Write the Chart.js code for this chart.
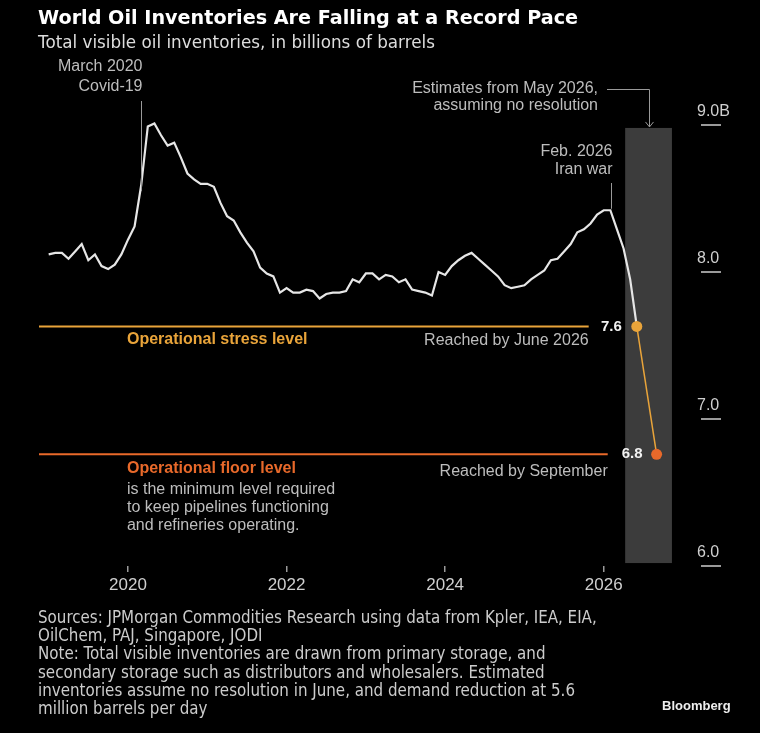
<!DOCTYPE html>
<html>

<head>
    <title>World Oil Inventories</title>
    <style type="text/css">
        body {
            margin: 0;
            background: #000;
        }

        #wrap {
            position: relative;
            width: 760px;
            height: 733px;
            background: #000;
        }

        #chart {
            position: absolute;
            left: 0;
            top: 0;
        }

        .title {
            position: absolute;
            left: 38px;
            top: 5px;
            color: #fff;
            font: bold 19.2px "DejaVu Sans", sans-serif;
            line-height: 26px;
            white-space: nowrap;
        }

        .subtitle {
            position: absolute;
            left: 38px;
            top: 31px;
            color: #ddd;
            font: 16.8px "DejaVu Sans", sans-serif;
            line-height: 22px;
            white-space: nowrap;
        }

        .notes {
            position: absolute;
            left: 38px;
            top: 608px;
            width: 640px;
            color: #ccc;
            font: 16.8px "DejaVu Sans Condensed", "DejaVu Sans", sans-serif;
            font-stretch: condensed;
            line-height: 18.2px;
            white-space: nowrap;
        }

        .brand {
            position: absolute;
            left: 662px;
            top: 698px;
            color: #eee;
            font: bold 13px "Liberation Sans", Arial, sans-serif;
        }
    </style>
</head>

<body>
    <div id="wrap">
        <canvas id="chart" width="760" height="733"></canvas>
        <div class="title">World Oil Inventories Are Falling at a Record Pace</div>
        <div class="subtitle">Total visible oil inventories, in billions of barrels</div>
        <div class="notes">
            Sources: JPMorgan Commodities Research using data from Kpler, IEA, EIA,<br>
            OilChem, PAJ, Singapore, JODI<br>
            Note: Total visible inventories are drawn from primary storage, and<br>
            secondary storage such as distributors and wholesalers. Estimated<br>
            inventories assume no resolution in June, and demand reduction at 5.6<br>
            million barrels per day
        </div>
        <div class="brand">Bloomberg</div>
    </div>

    <script src="https://cdn.jsdelivr.net/npm/chart.js@4.4.0/dist/chart.umd.min.js"></script>
    <script>
        // monthly inventories, billions of barrels, starting Jan 2019 (last point = Jun 2026 estimate)
        var startMonth = '2019-01';
        var inventory = [
            8.12, 8.13, 8.13, 8.09, 8.14, 8.19, 8.08, 8.12, 8.04, 8.02, 8.05, 8.12,
            8.22, 8.31, 8.59, 8.99, 9.01, 8.93, 8.86, 8.88, 8.78, 8.67, 8.63, 8.60,
            8.60, 8.58, 8.47, 8.38, 8.35, 8.27, 8.20, 8.14, 8.03, 7.99, 7.97, 7.86,
            7.89, 7.86, 7.86, 7.88, 7.87, 7.82, 7.85, 7.86, 7.86, 7.87, 7.95, 7.93,
            7.99, 7.99, 7.95, 7.98, 7.97, 7.93, 7.95, 7.88, 7.87, 7.86, 7.84, 8.00,
            7.98, 8.04, 8.08, 8.11, 8.13, 8.09, 8.05, 8.01, 7.97, 7.91, 7.89, 7.90,
            7.91, 7.95, 7.98, 8.01, 8.08, 8.09, 8.14, 8.19, 8.27, 8.29, 8.33, 8.39,
            8.42, 8.42, 8.29, 8.16, 7.95, 7.63
        ];

        // estimate points: June and September 2026
        var forecastMonths = ['2026-06', '2026-09'];
        var forecastValues = [7.63, 6.76];

        // operational levels (stress, floor) and where their lines stop
        var levelValues = [7.63, 6.76];
        var levelEnds = [2025.81, 2026.05];

        // shaded estimate window (decimal years / values)
        var estimateX = [2026.27, 2026.86];
        var estimateY = [6.02, 8.98];

        var eventYears = [2020.17, 2026.09]; // Covid, Iran war
        var xTickYears = [2020, 2022, 2024, 2026];
        var yTickValues = [6, 7, 8, 9];
        var yTickLabels = ['6.0', '7.0', '8.0', '9.0B'];

        var xMin = 2018.878, xMax = 2027.176;

        var GOLD = '#e9a43a';
        var ORANGE = '#e8692a';
        var TEXT = '#bdbdbd';
        var LINEGREY = '#9a9a9a';
        var FONT = '"Liberation Sans", Arial, sans-serif';

        function monthToYear(str) {
            var p = str.split('-');
            return +p[0] + (+p[1] - 1) / 12;
        }

        var start = monthToYear(startMonth);
        var historyPoints = inventory.map(function (v, i) {
            return { x: start + i / 12, y: v };
        });
        var forecastPoints = forecastMonths.map(function (m, i) {
            return { x: monthToYear(m), y: forecastValues[i] };
        });

        var shadePlugin = {
            id: 'shade',
            beforeDatasetsDraw: function (chart) {
                var ctx = chart.ctx, xs = chart.scales.x, ys = chart.scales.y;
                var x0 = xs.getPixelForValue(estimateX[0]), x1 = xs.getPixelForValue(estimateX[1]);
                var y0 = ys.getPixelForValue(estimateY[1]), y1 = ys.getPixelForValue(estimateY[0]);
                ctx.save();
                ctx.fillStyle = '#3c3c3c';
                ctx.fillRect(x0, y0, x1 - x0, y1 - y0);
                ctx.restore();
            }
        };

        var notePlugin = {
            id: 'notes',
            afterDatasetsDraw: function (chart) {
                var ctx = chart.ctx, xs = chart.scales.x, ys = chart.scales.y;
                ctx.save();
                ctx.textBaseline = 'middle';

                // Covid
                var cx = Math.round(xs.getPixelForValue(eventYears[0])) + 0.5;
                ctx.strokeStyle = LINEGREY;
                ctx.lineWidth = 1;
                ctx.beginPath();
                ctx.moveTo(cx, 101);
                ctx.lineTo(cx, ys.getPixelForValue(8.55));
                ctx.stroke();
                ctx.fillStyle = TEXT;
                ctx.font = '16px ' + FONT;
                ctx.textAlign = 'right';
                ctx.fillText('March 2020', cx + 1, 67);
                ctx.fillText('Covid-19', cx + 1, 87);

                // Iran war
                var ix = Math.round(xs.getPixelForValue(eventYears[1])) + 0.5;
                ctx.beginPath();
                ctx.moveTo(ix, 183);
                ctx.lineTo(ix, ys.getPixelForValue(8.43));
                ctx.stroke();
                ctx.fillText('Feb. 2026', ix + 1, 152);
                ctx.fillText('Iran war', ix + 1, 170);

                // estimate window call-out
                var bx = Math.round(xs.getPixelForValue((estimateX[0] + estimateX[1]) / 2)) + 0.5;
                var by = ys.getPixelForValue(estimateY[1]);
                ctx.fillText('Estimates from May 2026,', 598, 89);
                ctx.fillText('assuming no resolution', 598, 106);
                ctx.beginPath();
                ctx.moveTo(607, 89.5);
                ctx.lineTo(bx, 89.5);
                ctx.lineTo(bx, by - 1);
                ctx.moveTo(bx - 4, by - 6);
                ctx.lineTo(bx, by - 1);
                ctx.lineTo(bx + 4, by - 6);
                ctx.stroke();

                // level labels
                var sy = ys.getPixelForValue(levelValues[0]);
                var fy = ys.getPixelForValue(levelValues[1]);
                var left = xs.getPixelForValue(2020) - 1;
                ctx.textAlign = 'left';
                ctx.font = 'bold 16px ' + FONT;
                ctx.fillStyle = GOLD;
                ctx.fillText('Operational stress level', left, sy + 13);
                ctx.fillStyle = ORANGE;
                ctx.fillText('Operational floor level', left, fy + 14);
                ctx.font = '16px ' + FONT;
                ctx.fillStyle = TEXT;
                ctx.fillText('is the minimum level required', left, fy + 35);
                ctx.fillText('to keep pipelines functioning', left, fy + 53);
                ctx.fillText('and refineries operating.', left, fy + 71);

                ctx.textAlign = 'right';
                ctx.fillText('Reached by June 2026', xs.getPixelForValue(levelEnds[0]), sy + 14);
                ctx.fillText('Reached by September', xs.getPixelForValue(levelEnds[1]), fy + 17);

                // value labels next to the dots
                ctx.font = 'bold 15px ' + FONT;
                ctx.fillStyle = '#f2f2f2';
                ctx.fillText(forecastValues[0].toFixed(1), xs.getPixelForValue(forecastPoints[0].x) - 15, sy);
                ctx.fillText(forecastValues[1].toFixed(1), xs.getPixelForValue(forecastPoints[1].x) - 14, fy);
                ctx.restore();
            }
        };

        new Chart(document.getElementById('chart').getContext('2d'), {
            type: 'line',
            data: {
                datasets: [
                    {
                        data: forecastPoints,
                        borderColor: GOLD,
                        borderWidth: 1.5,
                        pointRadius: 5.5,
                        pointBorderWidth: 0,
                        pointBackgroundColor: [GOLD, ORANGE],
                        order: 0,
                        clip: false
                    },
                    {
                        data: historyPoints,
                        borderColor: '#e6e6e6',
                        borderWidth: 2.2,
                        pointRadius: 0,
                        order: 1,
                        clip: false
                    },
                    {
                        data: [{ x: xMin, y: levelValues[0] }, { x: levelEnds[0], y: levelValues[0] }],
                        borderColor: GOLD,
                        borderWidth: 2,
                        pointRadius: 0,
                        order: 2
                    },
                    {
                        data: [{ x: xMin, y: levelValues[1] }, { x: levelEnds[1], y: levelValues[1] }],
                        borderColor: ORANGE,
                        borderWidth: 2,
                        pointRadius: 0,
                        order: 2
                    }
                ]
            },
            options: {
                responsive: false,
                animation: false,
                layout: {
                    padding: { left: 39, right: 0, top: 125, bottom: 127 }
                },
                plugins: {
                    legend: { display: false },
                    tooltip: { enabled: false }
                },
                scales: {
                    x: {
                        type: 'linear',
                        min: xMin,
                        max: xMax,
                        afterBuildTicks: function (scale) {
                            scale.ticks = xTickYears.map(function (v) { return { value: v }; });
                        },
                        afterFit: function (scale) { scale.height = 40; },
                        border: { display: false },
                        grid: {
                            drawOnChartArea: false,
                            tickLength: 6,
                            color: LINEGREY,
                            lineWidth: 1.5
                        },
                        ticks: {
                            padding: 3,
                            color: '#cfcfcf',
                            font: { family: FONT, size: 17 },
                            maxRotation: 0,
                            callback: function (v) { return String(v); }
                        }
                    },
                    y: {
                        position: 'right',
                        min: 6,
                        max: 9,
                        afterBuildTicks: function (scale) {
                            scale.ticks = yTickValues.map(function (v) { return { value: v }; });
                        },
                        afterFit: function (scale) { scale.width = 63; },
                        border: { display: false },
                        grid: {
                            drawOnChartArea: false,
                            tickLength: 24,
                            tickBorderDash: [20, 4],
                            tickBorderDashOffset: 20,
                            color: LINEGREY,
                            lineWidth: 2
                        },
                        ticks: {
                            padding: -24,
                            labelOffset: -13,
                            color: '#cfcfcf',
                            font: { family: FONT, size: 16 },
                            callback: function (v) {
                                return yTickLabels[yTickValues.indexOf(v)];
                            }
                        }
                    }
                }
            },
            plugins: [shadePlugin, notePlugin]
        });
    </script>
</body>

</html>
